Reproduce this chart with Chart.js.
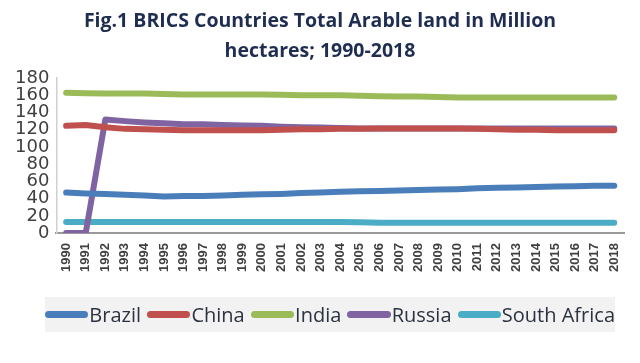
<!DOCTYPE html>
<html>
<head>
<meta charset="utf-8">
<script src="https://cdn.jsdelivr.net/npm/chart.js@4"></script>
<style>
  html, body { margin: 0; padding: 0; background: #fff; }
  #wrap { position: relative; width: 640px; height: 363px; }
  #legend {
    position: absolute; left: 45px; top: 297px; width: 570px; height: 35px;
    background: #f2f2f2; display: flex; align-items: center; justify-content: center;
    font: 20px "Open Sans", sans-serif; color: #2b3240; white-space: nowrap;
  }
  #legend .sw { display: inline-block; width: 44px; height: 7px; border-radius: 4px; margin: 0 1px 0 6px; }
  #legend .sw:first-child { margin-left: 0; }
</style>
</head>
<body>
<div id="wrap">
  <canvas id="chart" width="640" height="363"></canvas>
  <div id="legend"></div>
</div>
<script>
const years = ["1990","1991","1992","1993","1994","1995","1996","1997","1998","1999",
  "2000","2001","2002","2003","2004","2005","2006","2007","2008","2009",
  "2010","2011","2012","2013","2014","2015","2016","2017","2018"];

const brazil = [47, 46, 45.5, 44.5, 43.5, 42.5, 43, 43, 43.5, 44.5,
  45, 45.5, 46.5, 47, 48, 48.5, 49, 49.5, 50, 50.5,
  51, 52, 52.5, 53, 53.5, 54, 54.5, 55, 55];
const china = [124.5, 125.5, 123, 121, 120.5, 120, 119.5, 119.5, 119.5, 119.5,
  119.5, 120, 120.5, 120.5, 121, 121, 121.5, 121.5, 121.5, 121.5,
  121.5, 121, 120.5, 120, 120, 119.5, 119.5, 119.5, 119.5];
const india = [163, 162.5, 162, 162, 162, 161.5, 161, 161, 161, 161,
  161, 160.5, 160, 160, 160, 159.5, 159, 158.5, 158.5, 158,
  157.5, 157.5, 157.5, 157.5, 157.5, 157.5, 157.5, 157.5, 157.5];
const russia = [0, 0, 132, 130, 128.5, 127.5, 126.5, 126.5, 125.5, 125,
  124.5, 123.5, 123, 122.5, 122, 121.5, 121.5, 121.5, 121.5, 121.5,
  121.5, 121.5, 121.5, 121.5, 121.5, 121.5, 121.5, 121.5, 121.5];
const southAfrica = [13, 13, 13, 13, 13, 13, 13, 13, 13, 13,
  13, 13, 13, 13, 13, 12.5, 12, 12, 12, 12,
  12, 12, 12, 12, 12, 12, 12, 12, 12];

const seriesNames = ["Brazil", "China", "India", "Russia", "South Africa"];
const seriesData = [brazil, china, india, russia, southAfrica];
const colors = ["#4a7ebb", "#c0504d", "#9bbb59", "#8064a2", "#4bacc6"];

const datasets = seriesNames.map((name, i) => ({
  label: name,
  data: seriesData[i],
  borderColor: colors[i],
  backgroundColor: colors[i],
  borderWidth: 6,
  borderCapStyle: "round",
  borderJoinStyle: "round",
  pointRadius: 0,
  tension: 0,
  fill: false,
}));

new Chart(document.getElementById("chart"), {
  type: "line",
  data: { labels: years, datasets },
  options: {
    responsive: false,
    animation: false,
    layout: { padding: { left: 8, right: 8, top: 0, bottom: 81 } },
    plugins: {
      legend: { display: false },
      tooltip: { enabled: false },
      title: {
        display: true,
        text: ["Fig.1 BRICS Countries Total Arable land in Million", "hectares; 1990-2018"],
        color: "#1f2d50",
        font: { family: '"Open Sans", sans-serif', size: 19.5, weight: "bold", lineHeight: 1.54 },
        padding: { top: 6, bottom: 12 },
      },
    },
    scales: {
      x: {
        offset: true,
        grid: { display: false, drawTicks: false },
        border: { display: true, color: "#999999", width: 2 },
        ticks: {
          color: "#404040", maxRotation: 90, minRotation: 90, autoSkip: false, padding: 10,
          font: { family: '"Liberation Sans", sans-serif', size: 13, weight: "bold" },
        },
      },
      y: {
        min: 0, max: 180,
        grid: { display: false, drawTicks: false },
        border: { display: true, color: "#d0d0d0", width: 1.5 },
        ticks: {
          stepSize: 20, autoSkip: false, color: "#404040", padding: 7,
          font: { family: '"DejaVu Sans", sans-serif', size: 18 },
        },
      },
    },
  },
});

const legend = document.getElementById("legend");
seriesNames.forEach((name, i) => {
  const sw = document.createElement("span");
  sw.className = "sw";
  sw.style.background = colors[i];
  legend.appendChild(sw);
  const t = document.createElement("span");
  t.textContent = name;
  legend.appendChild(t);
});
</script>
</body>
</html>
